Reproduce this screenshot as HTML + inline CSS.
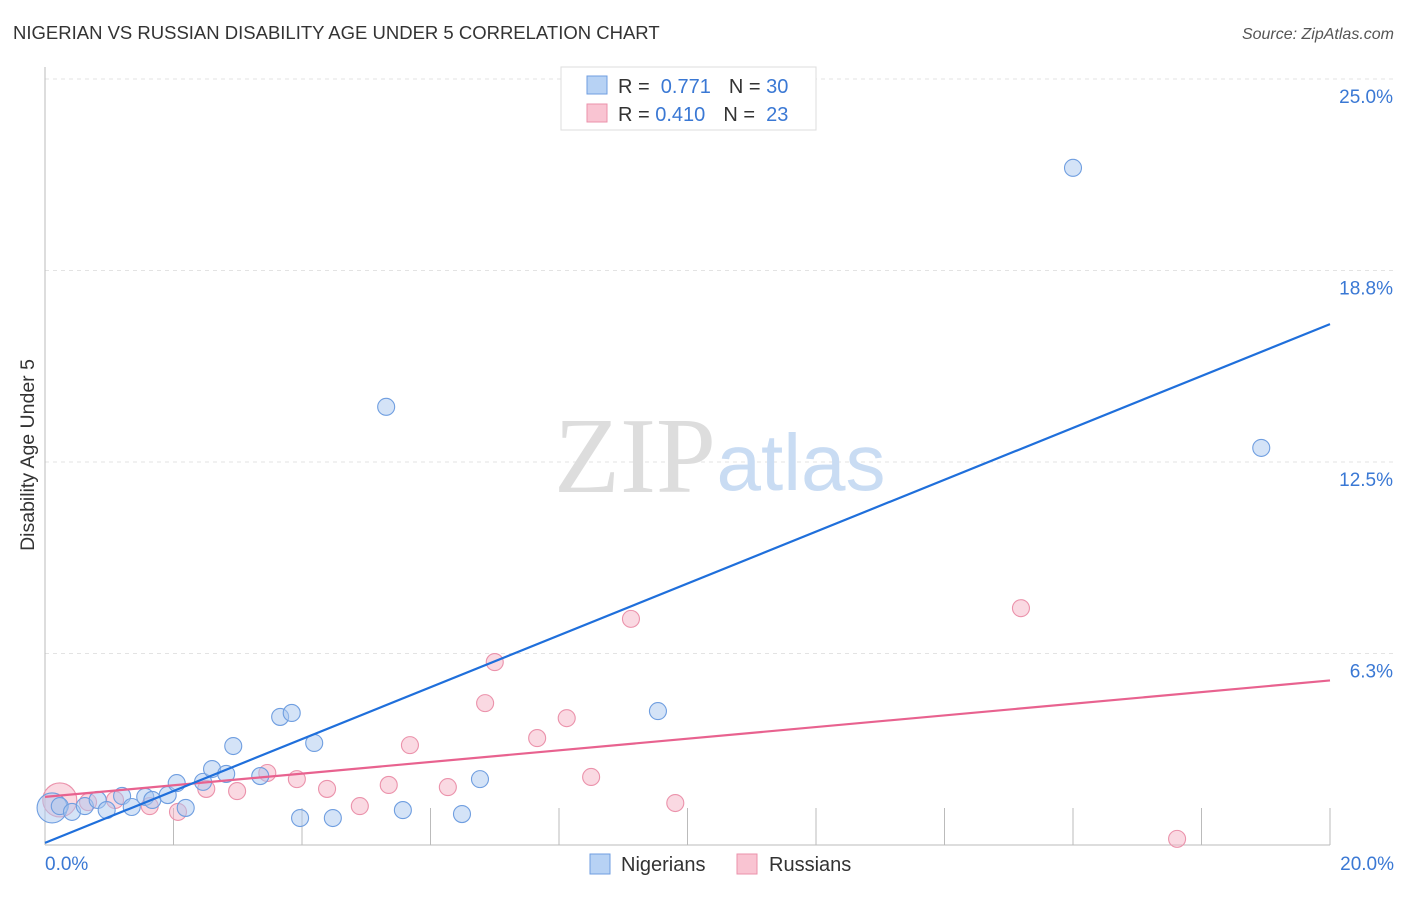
<!DOCTYPE html>
<html><head><meta charset="utf-8"><style>
body{margin:0;background:#fff;font-family:"Liberation Sans",sans-serif}
</style></head><body>
<svg width="1406" height="892" viewBox="0 0 1406 892">
<text x="13" y="39" font-size="18.5" fill="#333">NIGERIAN VS RUSSIAN DISABILITY AGE UNDER 5 CORRELATION CHART</text>
<text x="1394" y="39" font-size="16" fill="#555" font-style="italic" text-anchor="end">Source: ZipAtlas.com</text>
<g id="grid"></g>
<g>
<text x="635" y="492" font-family="Liberation Serif,serif" font-size="108" fill="#ddd" text-anchor="middle">ZIP</text>
<text x="801" y="490" font-size="80" fill="#c9dcf3" text-anchor="middle">atlas</text>
</g>
<line x1="45" y1="67" x2="45" y2="845" stroke="#bbb"/>
<line x1="45" y1="845" x2="1330" y2="845" stroke="#bbb"/>
<text x="34" y="455" font-size="19.5" fill="#333" text-anchor="middle" transform="rotate(-90 34 455)">Disability Age Under 5</text>
<text x="45" y="870" font-size="19" fill="#3a78d4">0.0%</text>
<text x="1394" y="870" font-size="19" fill="#3a78d4" text-anchor="end">20.0%</text>
<g id="pts"></g>
<g id="lines"></g>
<g>
<rect x="561" y="67" width="255" height="63" fill="#fff" stroke="#ddd"/>
<rect x="587" y="76" width="20" height="18" fill="#b7d2f4" stroke="#6f9ee0"/>
<rect x="587" y="104" width="20" height="18" fill="#f9c4d2" stroke="#eb92ab"/>
<text x="618" y="93" font-size="20" fill="#333">R = <tspan fill="#3a78d4">&#160;0.771</tspan><tspan dx="18">N = </tspan><tspan fill="#3a78d4">30</tspan></text>
<text x="618" y="121" font-size="20" fill="#333">R = <tspan fill="#3a78d4">0.410</tspan><tspan dx="18">N = </tspan><tspan fill="#3a78d4">&#160;23</tspan></text>
</g>
<g>
<rect x="590" y="854" width="20" height="20" fill="#b7d2f4" stroke="#6f9ee0"/>
<text x="621" y="871" font-size="20" fill="#333">Nigerians</text>
<rect x="737" y="854" width="20" height="20" fill="#f9c4d2" stroke="#eb92ab"/>
<text x="769" y="871" font-size="20" fill="#333">Russians</text>
</g>
</svg>
<script>
const yTicks=[6.25,12.5,18.75,25];
const yTickLabels=["6.3%","12.5%","18.8%","25.0%"];
const xTicks=[0,2,4,6,8,10,12,14,16,18,20];
const nigX=[0.11,0.23,0.42,0.62,0.82,0.96,1.20,1.35,1.56,1.67,1.91,2.05,2.19,2.46,2.60,2.82,2.93,3.35,3.66,3.84,4.19,3.97,4.48,5.31,5.57,6.49,6.77,9.54,16.0,18.93];
const nigY=[1.21,1.27,1.08,1.27,1.47,1.14,1.60,1.24,1.57,1.47,1.63,2.02,1.21,2.06,2.48,2.32,3.23,2.25,4.18,4.31,3.33,0.88,0.88,14.30,1.14,1.01,2.15,4.37,22.10,12.96];
const rusX=[0.23,0.67,1.09,1.63,2.07,2.51,2.99,3.46,3.92,4.39,4.90,5.35,5.68,6.27,6.85,7.00,7.66,8.12,8.50,9.12,9.81,15.19,17.62];
const rusY=[1.47,1.40,1.47,1.27,1.08,1.83,1.76,2.35,2.15,1.83,1.27,1.96,3.26,1.89,4.63,5.97,3.49,4.14,2.22,7.38,1.37,7.73,0.20];
const nigLine=[0.07,17.0];
const rusLine=[1.57,5.37];
const X=v=>45+v/20*1285, Y=v=>845-v/25*766;
const NS="http://www.w3.org/2000/svg";
const grid=document.getElementById('grid');
yTicks.forEach((t,i)=>{
 const l=document.createElementNS(NS,'line');
 l.setAttribute('x1',45);l.setAttribute('x2',1394);l.setAttribute('y1',Y(t));l.setAttribute('y2',Y(t));
 l.setAttribute('stroke','#e3e3e3');l.setAttribute('stroke-dasharray','4 4');
 
 
 grid.appendChild(l);
 const tx=document.createElementNS(NS,'text');
 tx.setAttribute('x',1393);tx.setAttribute('y',Y(t)+24);tx.setAttribute('text-anchor','end');
 tx.setAttribute('font-size','19');tx.setAttribute('fill','#3a78d4');tx.textContent=yTickLabels[i];
 
 
 grid.appendChild(tx);
});
xTicks.forEach(t=>{
 const l=document.createElementNS(NS,'line');
 l.setAttribute('x1',X(t));l.setAttribute('x2',X(t));l.setAttribute('y1',808);l.setAttribute('y2',845);
 l.setAttribute('stroke','#bbb');
 
 
 grid.appendChild(l);
});
const pts=document.getElementById('pts');
function dots(xs,ys,fill,stroke,name){
 xs.forEach((x,i)=>{
  const c=document.createElementNS(NS,'circle');
  c.setAttribute('cx',X(x));c.setAttribute('cy',Y(ys[i]));c.setAttribute('r',i===0?(name==='russian-point'?17:15):8.5);
  c.setAttribute('fill',fill);c.setAttribute('fill-opacity','0.5');c.setAttribute('stroke',stroke);c.setAttribute('stroke-width','1.1');
  
  
  pts.appendChild(c);
 });
}
dots(rusX,rusY,'#f6b3c6','#eb92ab','russian-point');
dots(nigX,nigY,'#a9c8ef','#6f9ee0','nigerian-point');
const lines=document.getElementById('lines');
function trend(p,color,name){
 const l=document.createElementNS(NS,'line');
 l.setAttribute('x1',X(0));l.setAttribute('y1',Y(p[0]));l.setAttribute('x2',X(20));l.setAttribute('y2',Y(p[1]));
 l.setAttribute('stroke',color);l.setAttribute('stroke-width','2.2');
 
 
 lines.appendChild(l);
}
trend(rusLine,'#e8628f','russian-trendline');
trend(nigLine,'#1f6fdb','nigerian-trendline');
</script>
</body></html>
